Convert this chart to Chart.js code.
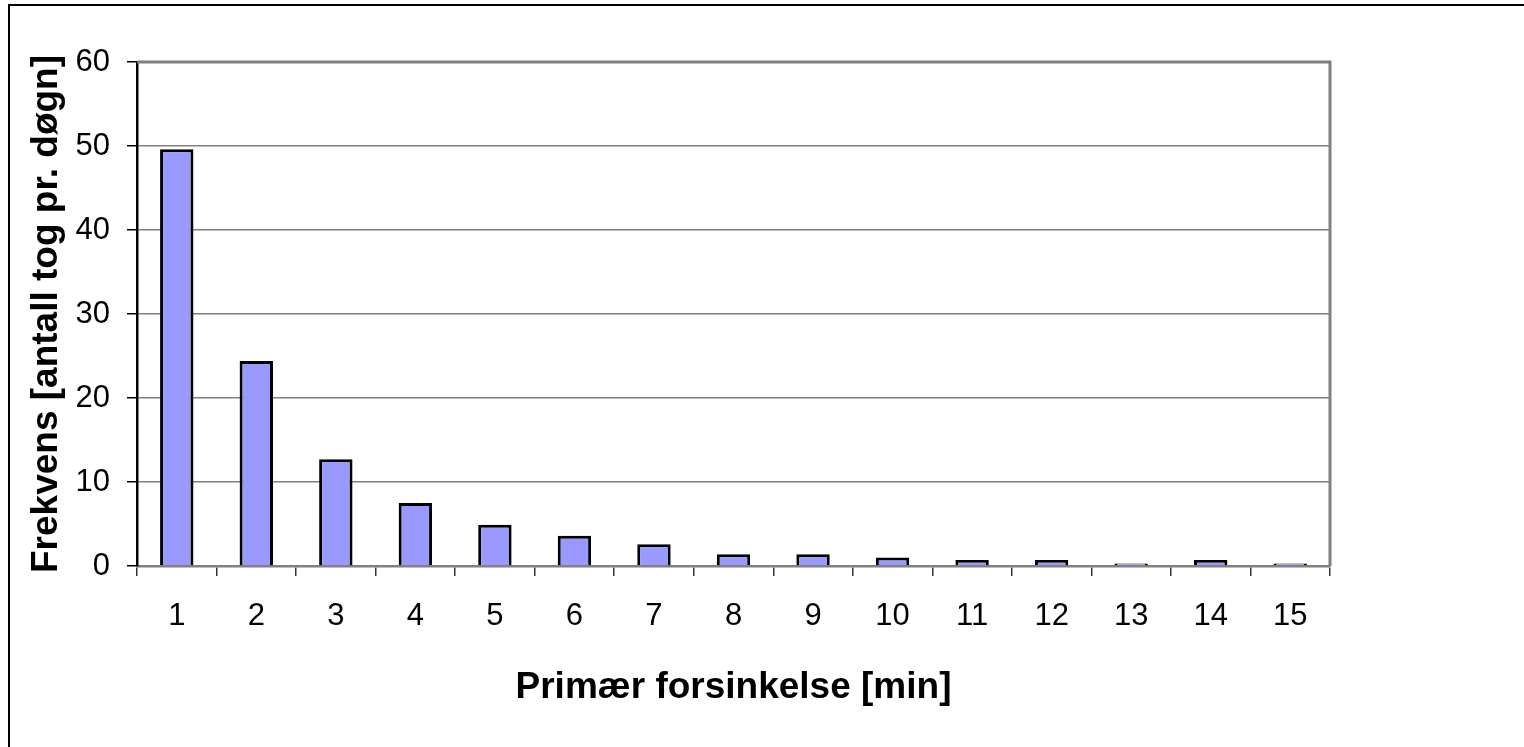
<!DOCTYPE html>
<html>
<head>
<meta charset="utf-8">
<script src="https://cdn.jsdelivr.net/npm/chart.js@4/dist/chart.umd.min.js"></script>
<style>
    body { margin: 0; background: #fff; }
    canvas { display: block; }
</style>
</head>
<body>
<canvas id="delayChart" width="1524" height="747"></canvas>
<script>
// Data
const delayMinutes = ['1', '2', '3', '4', '5', '6', '7', '8', '9', '10', '11', '12', '13', '14', '15'];
const trainsPerDay = [49.6, 24.4, 12.7, 7.5, 4.9, 3.6, 2.6, 1.4, 1.4, 1.0, 0.7, 0.7, 0.3, 0.7, 0.3];
const yTicks = [0, 10, 20, 30, 40, 50, 60];

const fontFamily = '"Liberation Sans", Arial, sans-serif';

// Outer frame and plot frame (top/right edges)
const framePlugin = {
    id: 'frame',
    beforeDraw(chart) {
        const ctx = chart.ctx;
        ctx.save();
        ctx.fillStyle = '#fff';
        ctx.fillRect(0, 0, chart.width, chart.height);
        ctx.strokeStyle = '#000';
        ctx.lineWidth = 2;
        ctx.beginPath();
        ctx.moveTo(9, chart.height);
        ctx.lineTo(9, 5);
        ctx.lineTo(chart.width, 5);
        ctx.stroke();
        ctx.restore();
    },
    afterDatasetsDraw(chart) {
        const { ctx, chartArea } = chart;
        ctx.save();
        ctx.strokeStyle = '#808080';
        ctx.lineWidth = 3;
        ctx.beginPath();
        ctx.moveTo(chartArea.left, chartArea.top);
        ctx.lineTo(chartArea.right, chartArea.top);
        ctx.lineTo(chartArea.right, chartArea.bottom);
        ctx.stroke();
        ctx.restore();
    }
};

const ctx = document.getElementById('delayChart').getContext('2d');
const chart = new Chart(ctx, {
    type: 'bar',
    data: {
        labels: delayMinutes,
        datasets: [{
            data: trainsPerDay,
            backgroundColor: '#9999ff',
            borderColor: '#000',
            borderWidth: 3,
            barPercentage: 0.42,
            categoryPercentage: 1.0
        }]
    },
    options: {
        responsive: false,
        animation: false,
        devicePixelRatio: 1,
        layout: {
            padding: { left: 0, top: 62, right: 194, bottom: 0 }
        },
        plugins: {
            legend: { display: false },
            tooltip: { enabled: false }
        },
        scales: {
            x: {
                grid: {
                    offset: true,
                    drawOnChartArea: false,
                    drawTicks: true,
                    tickLength: 10,
                    color: '#333',
                    lineWidth: 1.5
                },
                border: { color: '#808080', width: 2.5 },
                ticks: {
                    color: '#000',
                    padding: 22,
                    font: { family: fontFamily, size: 31 }
                },
                title: {
                    display: true,
                    text: 'Primær forsinkelse [min]',
                    color: '#000',
                    padding: { top: 0, bottom: 37 },
                    font: { family: fontFamily, size: 37, weight: 'bold' }
                },
                afterFit(scale) {
                    scale.height = 181;
                }
            },
            y: {
                min: 0,
                max: 60,
                afterBuildTicks(scale) {
                    scale.ticks = yTicks.map(v => ({ value: v }));
                },
                grid: {
                    color: '#808080',
                    lineWidth: 1.5,
                    tickLength: 10,
                    tickColor: '#000'
                },
                border: { color: '#000', width: 2.5 },
                ticks: {
                    color: '#000',
                    padding: 17,
                    font: { family: fontFamily, size: 31 }
                },
                title: {
                    display: true,
                    text: 'Frekvens [antall tog pr. døgn]',
                    color: '#000',
                    padding: { top: 25, bottom: 0 },
                    font: { family: fontFamily, size: 37, weight: 'bold' }
                },
                afterFit(scale) {
                    scale.width = 137;
                }
            }
        }
    },
    plugins: [framePlugin]
});
</script>
</body>
</html>
